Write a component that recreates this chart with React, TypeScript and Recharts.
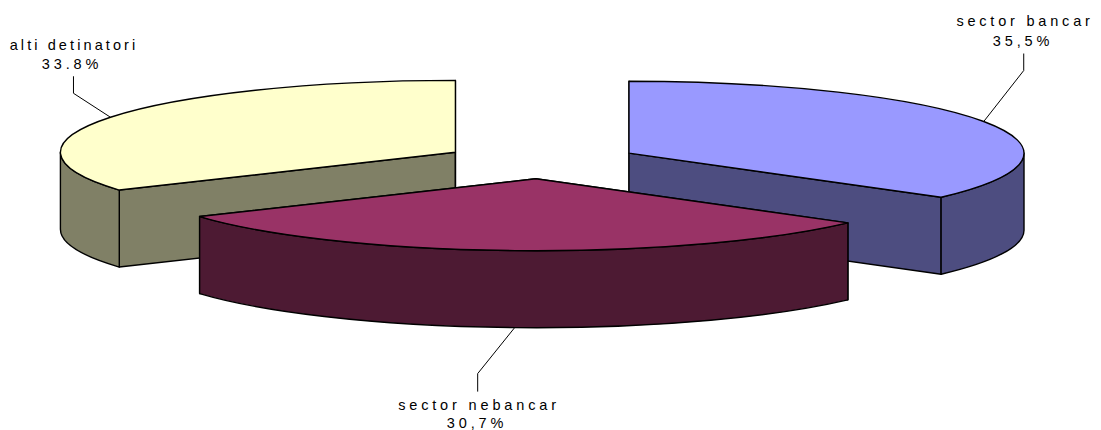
import { Pie, PieChart } from "recharts";

const names = ["alti detinatori", "sector bancar", "sector nebancar"];
const values = [33.8, 35.5, 30.7];
const percentLabels = ["33.8%", "35,5%", "30,7%"];
const topColors = ["#FFFFCC", "#9999FF", "#993366"];
const sideColors = ["#808066", "#4D4D80", "#4D1A33"];

const rows = names.map((name, i) => ({ name, value: values[i], percent: percentLabels[i], fill: topColors[i], side: sideColors[i] }));

// the pie is squashed into an ellipse, slices pulled out from the middle
const TILT = 0.182;
const DEPTH = 77;
const EXPLODE = 98;
const RAD = Math.PI / 180;

// leader line elbows and text placement, relative to the slice edge
const leaders = [
  { elbow: [-37, -24], end: [-37, -41], text: [74, 50], gap: 19, spacing: 3.1 },
  { elbow: [40, -51], end: [40, -68], text: [1025, 26], gap: 19.5, spacing: 3.8 },
  { elbow: [-37, 46], end: [-37, 64], text: [479, 410], gap: 18, spacing: 3.85 },
];

function onEllipse(p: any, angle: number, r = p.outerRadius) {
  const mid = p.midAngle ?? (p.startAngle + p.endAngle) / 2;
  const ox = p.cx + EXPLODE * Math.cos(mid * RAD);
  const oy = p.cy - EXPLODE * TILT * Math.sin(mid * RAD);
  return { ox, oy, x: ox + r * Math.cos(angle * RAD), y: oy - r * TILT * Math.sin(angle * RAD) };
}

function Slice3D(props: any) {
  const { startAngle, endAngle, outerRadius, fill, payload } = props;
  const rx = outerRadius;
  const ry = outerRadius * TILT;
  const a = onEllipse(props, startAngle);
  const b = onEllipse(props, endAngle);
  const { ox, oy } = a;
  const large = startAngle - endAngle > 180 ? 1 : 0;
  const side = payload?.side ?? props.side;

  // outer wall only where the rim faces the viewer
  const walls: [number, number][] = [];
  for (const [lo, hi] of [[-180, 0], [180, 360]]) {
    const s = Math.min(startAngle, hi);
    const e = Math.max(endAngle, lo);
    if (s > e) walls.push([s, e]);
  }
  const face = (p: { x: number; y: number }) =>
    `M${ox},${oy}L${p.x},${p.y}L${p.x},${p.y + DEPTH}L${ox},${oy + DEPTH}Z`;

  return (
    <g stroke="#000" strokeWidth={1.4} strokeLinejoin="round">
      <path d={face(a)} fill={side} />
      <path d={face(b)} fill={side} />
      {walls.map(([s, e]) => {
        const p = onEllipse(props, s);
        const q = onEllipse(props, e);
        return (
          <path
            key={s}
            d={`M${p.x},${p.y}A${rx},${ry} 0 0 1 ${q.x},${q.y}L${q.x},${q.y + DEPTH}A${rx},${ry} 0 0 0 ${p.x},${p.y + DEPTH}Z`}
            fill={side}
          />
        );
      })}
      <path d={`M${ox},${oy}L${a.x},${a.y}A${rx},${ry} 0 ${large} 1 ${b.x},${b.y}Z`} fill={fill} />
    </g>
  );
}

function SliceLabel(props: any) {
  const { midAngle, index } = props;
  const pos = leaders[index];
  const rim = onEllipse(props, midAngle);
  // the front slice's leader hangs off the bottom of its wall
  const startY = Math.sin(midAngle * RAD) < -0.9 ? rim.y + DEPTH : rim.y;
  const row = rows[index];
  return (
    <g>
      <polyline
        points={`${rim.x},${startY} ${rim.x + pos.elbow[0]},${startY + pos.elbow[1]} ${rim.x + pos.end[0]},${startY + pos.end[1]}`}
        fill="none"
        stroke="#000"
        strokeWidth={1}
      />
      <text textAnchor="middle" fontFamily="Liberation Sans, Arial, sans-serif" fontSize={14.5} letterSpacing={pos.spacing} fill="#000">
        <tspan x={pos.text[0]} y={pos.text[1]}>{row.name}</tspan>
        <tspan x={pos.text[0] - 2} y={pos.text[1] + pos.gap} letterSpacing={3.85}>{row.percent}</tspan>
      </text>
    </g>
  );
}

export default function App() {
  const start = 90 + (values[0] / 100) * 360;
  return (
    <div style={{ position: "absolute", left: 0, top: 0, width: 1101, height: 430, background: "#fff" }}>
      <PieChart width={1101} height={430} margin={{ top: 0, right: 0, bottom: 0, left: 0 }}>
        <Pie
          data={rows}
          dataKey="value"
          nameKey="name"
          cx={541}
          cy={161}
          innerRadius={0}
          outerRadius={395}
          startAngle={start}
          endAngle={start - 360}
          paddingAngle={0}
          isAnimationActive={false}
          shape={Slice3D}
          label={SliceLabel}
          labelLine={false}
        />
      </PieChart>
    </div>
  );
}
